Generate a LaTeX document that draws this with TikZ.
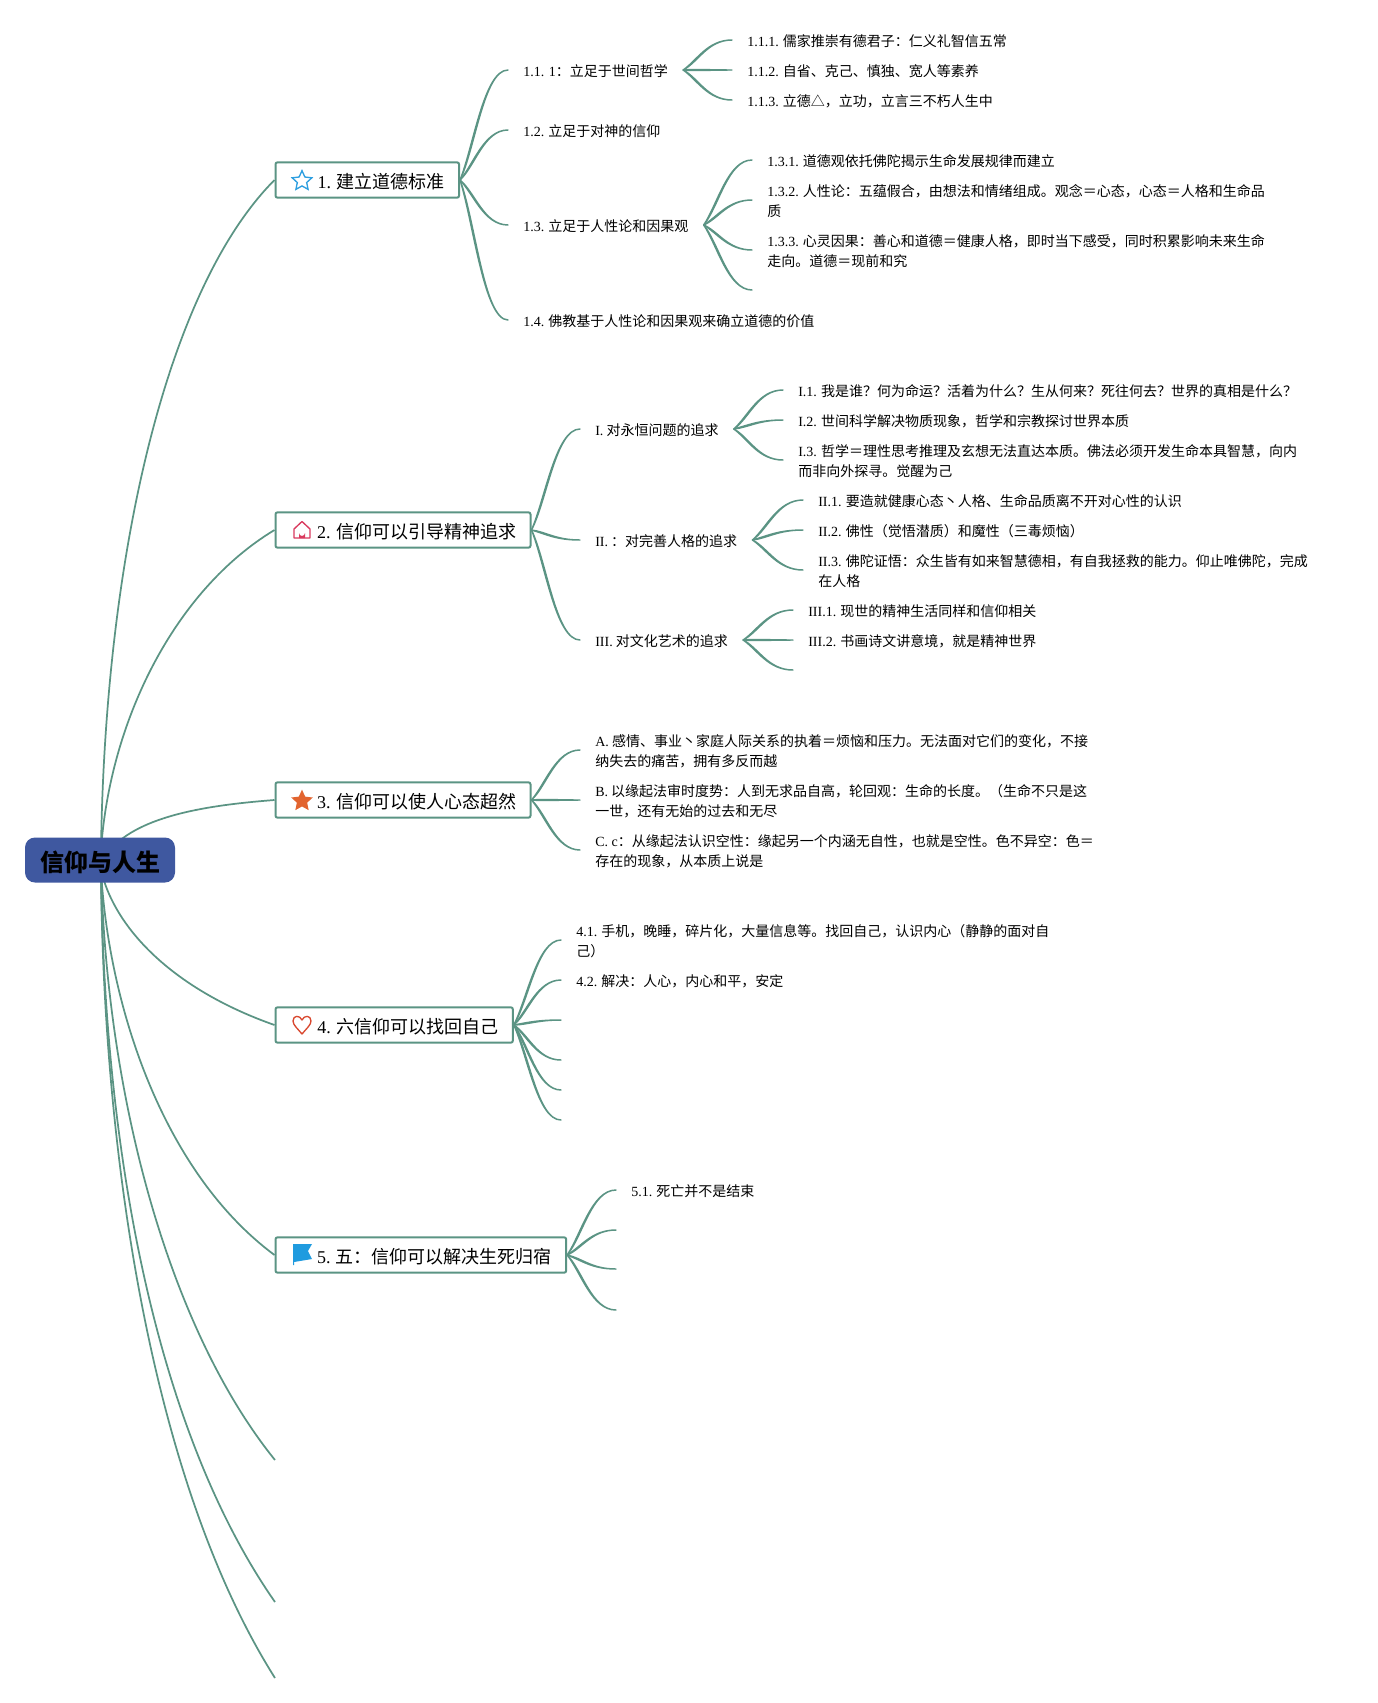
\documentclass[tikz,border=0pt]{standalone}
\usepackage{fontspec}
\setmainfont{Noto Sans CJK SC}
\newfontfamily\latinface{Liberation Serif}
\newcommand{\lat}[1]{{\latinface #1}}
\usetikzlibrary{calc,shapes.geometric}
\definecolor{branchgreen}{HTML}{5B9484}
\definecolor{rootblue}{HTML}{3F58A0}
\definecolor{iconblue}{HTML}{2E9FE0}
\definecolor{iconred}{HTML}{D93A5E}
\definecolor{iconorange}{HTML}{E2642F}
\definecolor{iconheart}{HTML}{D9482F}
\definecolor{flagblue}{HTML}{1F9BDF}
\tikzset{
  twig/.style={draw=branchgreen,fill=branchgreen,line width=1.1pt,line cap=round,line join=round,
    to path={let \p1=(\tikztostart),\p2=(\tikztotarget),\n1={veclen(\x2-\x1,\y2-\y1)} in
      .. controls ({\x1+.3*(\x2-\x1)-0.8*(\y2-\y1)/\n1},{\y1+.3*(\y2-\y1)+0.8*(\x2-\x1)/\n1})
         and ({\x1+.5*(\x2-\x1)},\y2) .. (\p2)
      .. controls ({\x1+.5*(\x2-\x1)},\y2)
         and ({\x1+.3*(\x2-\x1)+0.8*(\y2-\y1)/\n1},{\y1+.3*(\y2-\y1)-0.8*(\x2-\x1)/\n1}) .. (\p1) -- cycle}},
  trunk/.style={branchgreen,line width=1.3pt},
  leaf/.style={anchor=west,inner xsep=11.25pt,inner ysep=0pt,align=left,yshift=-0.9pt,
    font=\fontsize{10.5}{15}\selectfont,text=black},
  topic/.style={anchor=west,draw=branchgreen,line width=1.5pt,fill=white,rounded corners=1.5pt,
    minimum height=26.5pt,inner xsep=0pt,inner ysep=0pt,align=left,text height=12.2pt,text depth=0pt,
    font=\fontsize{13.5}{16}\selectfont,text=black},
  rootbox/.style={fill=rootblue,rounded corners=7.5pt,minimum width=112.5pt,minimum height=33.75pt,
    inner sep=0pt,text height=16.6pt,text depth=0pt,font=\fontsize{18}{20}\selectfont\bfseries,text=black},
}
\begin{document}
\begin{tikzpicture}[x=0.75pt,y=-0.75pt]
\useasboundingbox (0,0) rectangle (1378,1703);
\fill[white] (0,0) rectangle (1378,1703);

% free ends
\coordinate (c134) at (752,290);
\coordinate (c3c) at (793,670);
\coordinate (c43) at (561,1020);
\coordinate (c44) at (561,1060);
\coordinate (c45) at (561,1090);
\coordinate (c46) at (561,1120);
\coordinate (c52) at (616,1230);
\coordinate (c53) at (616,1269);
\coordinate (c54) at (616,1310);
\coordinate (c6) at (275,1460);
\coordinate (c7) at (275,1602);
\coordinate (c8) at (275,1678);
\coordinate (ru) at (101,850);
\coordinate (rd) at (101,870);
\coordinate (rr) at (110,850);

% topics
\node[topic,minimum width=136.5pt] (b1) at (274.5,180) {\hspace*{31.5pt}\lat{1.} 建立道德标准\hspace*{11pt}};
\node[topic,minimum width=191.25pt] (b2) at (274.5,530) {\hspace*{30.5pt}\lat{2.} 信仰可以引导精神追求\hspace*{10pt}};
\node[topic,minimum width=191.25pt] (b3) at (274.5,800) {\hspace*{30.5pt}\lat{3.} 信仰可以使人心态超然\hspace*{10pt}};
\node[topic,minimum width=178pt] (b4) at (274.5,1025) {\hspace*{30.5pt}\lat{4.} 六信仰可以找回自己\hspace*{10pt}};
\node[topic,minimum width=218pt] (b5) at (274.5,1255) {\hspace*{30.5pt}\lat{5.} 五：信仰可以解决生死归宿\hspace*{10pt}};

% leaves
\node[leaf] (l11) at (508,70) {\lat{1.1. 1}：立足于世间哲学};
\node[leaf] (l12) at (508,130) {\lat{1.2.} 立足于对神的信仰};
\node[leaf] (l13) at (508,225) {\lat{1.3.} 立足于人性论和因果观};
\node[leaf] (l14) at (508,320) {\lat{1.4.} 佛教基于人性论和因果观来确立道德的价值};
\node[leaf] (l111) at (732,40) {\lat{1.1.1.} 儒家推崇有德君子：仁义礼智信五常};
\node[leaf] (l112) at (732,70) {\lat{1.1.2.} 自省、克己、慎独、宽人等素养};
\node[leaf] (l113) at (732,100) {\lat{1.1.3.} 立德△，立功，立言三不朽人生中};
\node[leaf] (l131) at (752,160) {\lat{1.3.1.} 道德观依托佛陀揭示生命发展规律而建立};
\node[leaf] (l132) at (752,200) {\lat{1.3.2.} 人性论：五蕴假合，由想法和情绪组成。观念＝心态，心态＝人格和生命品\\质};
\node[leaf] (l133) at (752,250) {\lat{1.3.3.} 心灵因果：善心和道德＝健康人格，即时当下感受，同时积累影响未来生命\\走向。道德＝现前和究};

\node[leaf] (l21) at (580,429) {\lat{I.} 对永恒问题的追求};
\node[leaf] (l22) at (580,540) {\lat{II.} ：对完善人格的追求};
\node[leaf] (l23) at (580,640) {\lat{III.} 对文化艺术的追求};
\node[leaf] (l211) at (783,390) {\lat{I.1.} 我是谁？何为命运？活着为什么？生从何来？死往何去？世界的真相是什么？};
\node[leaf] (l212) at (783,420) {\lat{I.2.} 世间科学解决物质现象，哲学和宗教探讨世界本质};
\node[leaf] (l213) at (783,460) {\lat{I.3.} 哲学＝理性思考推理及玄想无法直达本质。佛法必须开发生命本具智慧，向内\\而非向外探寻。觉醒为己};
\node[leaf] (l221) at (803,500) {\lat{II.1.} 要造就健康心态丶人格、生命品质离不开对心性的认识};
\node[leaf] (l222) at (803,530) {\lat{II.2.} 佛性（觉悟潜质）和魔性（三毒烦恼）};
\node[leaf] (l223) at (803,570) {\lat{II.3.} 佛陀证悟：众生皆有如来智慧德相，有自我拯救的能力。仰止唯佛陀，完成\\在人格};
\node[leaf] (l231) at (793,610) {\lat{III.1.} 现世的精神生活同样和信仰相关};
\node[leaf] (l232) at (793,640) {\lat{III.2.} 书画诗文讲意境，就是精神世界};

\node[leaf] (l31) at (580,750) {\lat{A.} 感情、事业丶家庭人际关系的执着＝烦恼和压力。无法面对它们的变化，不接\\纳失去的痛苦，拥有多反而越};
\node[leaf] (l32) at (580,800) {\lat{B.} 以缘起法审时度势：人到无求品自高，轮回观：生命的长度。（生命不只是这\\一世，还有无始的过去和无尽};
\node[leaf] (l33) at (580,850) {\lat{C. c}：从缘起法认识空性：缘起另一个内涵无自性，也就是空性。色不异空：色＝\\存在的现象，从本质上说是};

\node[leaf] (l41) at (561,940) {\lat{4.1.} 手机，晚睡，碎片化，大量信息等。找回自己，认识内心（静静的面对自\\己）};
\node[leaf] (l42) at (561,980) {\lat{4.2.} 解决：人心，内心和平，安定};
\node[leaf] (l51) at (616,1190) {\lat{5.1.} 死亡并不是结束};

% connectors
\draw[trunk] (ru) .. controls (105,560) and (165,290) .. (b1.west);
\draw[trunk] (ru) .. controls (110,720) and (175,590) .. (b2.west);
\draw[trunk] (rr) .. controls (140,815) and (210,805) .. (b3.west);
\draw[trunk] (rd) .. controls (115,930) and (175,990) .. (b4.west);
\draw[trunk] (rd) .. controls (108,1000) and (160,1170) .. (b5.west);
\draw[trunk] (rd) .. controls (107,1100) and (170,1330) .. (c6);
\draw[trunk] (rd) .. controls (104,1150) and (155,1430) .. (c7);
\draw[trunk] (rd) .. controls (103,1150) and (150,1480) .. (c8);
% topic to leaf
\foreach \a/\b in {b1/l11,b1/l12,b1/l13,b1/l14,b2/l21,b2/l22,b2/l23,b3/l31,b3/l32,b3/l33,
  b4/l41,b4/l42,b5/l51}
  \draw[twig] (\a.east) to ([yshift=0.9pt]\b.west);
\foreach \a/\b in {b4/c43,b4/c44,b4/c45,b4/c46,b5/c52,b5/c53,b5/c54}
  \draw[twig] (\a.east) to (\b);
% leaf to leaf
\foreach \a/\b in {l11/l111,l11/l112,l11/l113,l13/l131,l13/l132,l13/l133,
  l21/l211,l21/l212,l21/l213,l22/l221,l22/l222,l22/l223,l23/l231,l23/l232}
  \draw[twig] ([yshift=0.9pt]\a.east) to ([yshift=0.9pt]\b.west);
\draw[twig] ([yshift=0.9pt]l13.east) to (c134);
\draw[twig] ([yshift=0.9pt]l23.east) to (c3c);

% root
\node[rootbox] (root) at (100,860) {信仰与人生};

% icons
\node[star,star points=5,star point ratio=2.1,draw=iconblue,line width=1pt,minimum size=15.5pt,inner sep=0pt] (ic1) at (302,181) {};
\begin{scope}[shift={(302,530)}]
\draw[iconred,line width=1pt,line join=round] (-8,-1) -- (0,-8.5) -- (8,-1) -- (8,8) -- (-8,8) -- cycle;
\fill[iconred] (-3,8) -- (-3,3) arc[start angle=180,end angle=0,radius=3] -- (3,8) -- cycle;
\end{scope}
\node[star,star points=5,star point ratio=2.1,fill=iconorange,minimum size=17pt,inner sep=0pt] (ic3) at (302,801) {};
\begin{scope}[shift={(302,1025)}]
\draw[iconheart,line width=1pt,line join=round] (0,9) .. controls (-4,4) and (-9,0) .. (-9,-4) .. controls (-9,-10) and (-2,-10) .. (0,-5) .. controls (2,-10) and (9,-10) .. (9,-4) .. controls (9,0) and (4,4) .. (0,9) -- cycle;
\end{scope}
\begin{scope}[shift={(302,1255)}]
\fill[flagblue] (-9,-11) -- (10,-11) -- (6,-4) -- (10,4) -- (-8,7) -- (-8,10) -- (-9,10) -- cycle;
\end{scope}
\end{tikzpicture}
\end{document}
